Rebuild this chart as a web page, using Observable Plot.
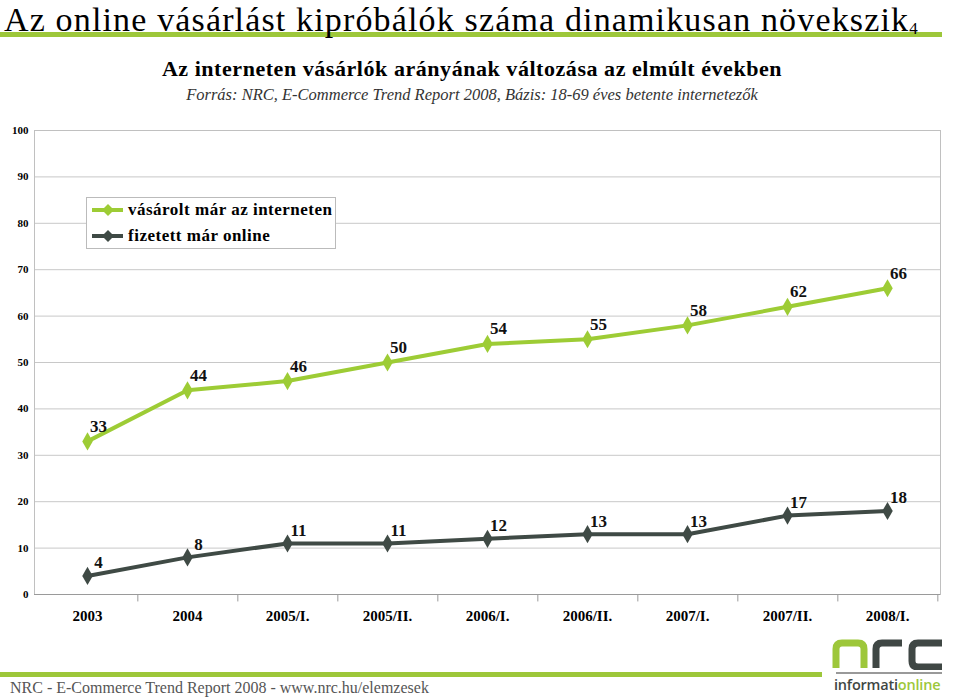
<!DOCTYPE html>
<html>
<head>
<meta charset="utf-8">
<script src="https://cdn.jsdelivr.net/npm/d3@7"></script>
<script src="https://cdn.jsdelivr.net/npm/@observablehq/plot@0.6"></script>
<style>
  html, body { margin: 0; padding: 0; background: #fff; }
  body { width: 960px; height: 700px; position: relative; overflow: hidden; font-family: "Liberation Serif", "Times New Roman", Times, "DejaVu Serif", serif; }
  .abs { position: absolute; }
  #title { left: 4px; top: 0px; font-size: 34px; line-height: 39px; letter-spacing: 1.15px; color: #000; white-space: nowrap; }
  #title sub { font-size: 17px; vertical-align: baseline; position: relative; top: 3px; letter-spacing: 0; }
  #titlebar { left: 0; top: 32px; width: 942px; height: 5px; background: #9dc73a; }
  #sub1 { left: 0; width: 944px; top: 56px; text-align: center; font-size: 22px; letter-spacing: 0.55px; font-weight: bold; white-space: nowrap; }
  #sub2 { left: 0; width: 944px; top: 85px; text-align: center; font-size: 16.5px; font-style: italic; color: #333; white-space: nowrap; }
  #chart { left: 0; top: 120px; }
  #legend { left: 86px; top: 197px; width: 248px; height: 50px; background: #fff; border: 1px solid #bbb; font-weight: bold; font-size: 17px; letter-spacing: 0.5px; }
  .lrow { position: absolute; left: 4px; height: 20px; display: flex; align-items: center; }
  .lrow svg { margin-right: 4px; }
  #footbar { left: 0; top: 672px; width: 822px; height: 5px; background: #9dc73a; }
  #foot { left: 10px; top: 679px; font-size: 16px; color: #555; white-space: nowrap; }
  #logo { left: 832px; top: 638px; width: 112px; height: 62px; }
  #logo svg { position: absolute; left: 0; top: 0; }
  #logo .rule { position: absolute; left: 4px; top: 34px; width: 106px; height: 2px; background: #999; }
  #logo .info { position: absolute; left: 2px; top: 40px; font-family: "Open Sans", sans-serif; font-weight: 600; font-size: 14.5px; letter-spacing: -0.2px; line-height: 1; white-space: nowrap; }
</style>
</head>
<body>
<div id="titlebar" class="abs"></div>
<div id="title" class="abs">Az online vásárlást kipróbálók száma dinamikusan növekszik<sub>4</sub></div>
<div id="sub1" class="abs">Az interneten vásárlók arányának változása az elmúlt években</div>
<div id="sub2" class="abs">Forrás: NRC, E-Commerce Trend Report 2008, Bázis: 18-69 éves betente internetezők</div>
<div id="chart" class="abs"></div>
<div id="legend" class="abs"></div>
<div id="footbar" class="abs"></div>
<div id="foot" class="abs">NRC - E-Commerce Trend Report 2008 - www.nrc.hu/elemzesek</div>
<div id="logo" class="abs">
  <svg width="112" height="32" viewBox="0 0 112 32">
    <path d="M4,30 V11 Q4,5 10,5 H26 Q32,5 32,11 V30" fill="none" stroke="#9dc73a" stroke-width="7"/>
    <path d="M44,30 V11 Q44,5 50,5 H70" fill="none" stroke="#3f4744" stroke-width="7"/>
    <path d="M110,5 H86 Q80,5 80,11 V23 Q80,29 86,29 H110" fill="none" stroke="#3f4744" stroke-width="7"/>
  </svg>
  <div class="rule"></div>
  <div class="info"><span style="color:#3f4744">informati</span><span style="color:#9dc73a">online</span></div>
</div>
<script>
const categories = ["2003", "2004", "2005/I.", "2005/II.", "2006/I.", "2006/II.", "2007/I.", "2007/II.", "2008/I."];
const seriesNames = ["vásárolt már az interneten", "fizetett már online"];
const purchased = [33, 44, 46, 50, 54, 55, 58, 62, 66];
const paidOnline = [4, 8, 11, 11, 12, 13, 13, 17, 18];
const yTicks = [0, 10, 20, 30, 40, 50, 60, 70, 80, 90, 100];
const colors = ["#9dcc35", "#3f4a45"];

const data = [];
categories.forEach((c, i) => {
  data.push({cat: c, value: purchased[i], series: seriesNames[0]});
  data.push({cat: c, value: paidOnline[i], series: seriesNames[1]});
});

const W = 960, mL = 34, mR = 20;
const step = (W - mL - mR) / categories.length;
const serif = "'Liberation Serif', 'Times New Roman', Times, 'DejaVu Serif', serif";

const chart = Plot.plot({
  width: W,
  height: 514,
  marginLeft: mL,
  marginRight: mR,
  marginTop: 10,
  marginBottom: 40,
  style: {fontFamily: serif, fontWeight: "bold", fontSize: "11px", color: "#000", background: "transparent"},
  x: {type: "point", domain: categories, padding: 0.5, label: null},
  y: {domain: [0, 100], label: null},
  color: {domain: seriesNames, range: colors},
  marks: [
    Plot.gridY(yTicks, {stroke: "#c8c8c8", strokeOpacity: 1}),
    Plot.frame({stroke: "#c0c0c0"}),
    Plot.ruleY([0], {stroke: "#9a9a9a"}),
    Plot.ruleX(categories, {x: d => d, y1: 0, y2: -1.6, dx: step / 2, stroke: "#9a9a9a"}),
    Plot.axisY(yTicks, {tickSize: 0, tickPadding: 6, fontSize: 11, fontWeight: "bold"}),
    Plot.axisX({tickSize: 0, tickPadding: 16, fontSize: 15, fontWeight: "bold"}),
    Plot.line(data, {x: "cat", y: "value", z: "series", stroke: "series", strokeWidth: 4}),
    Plot.dot(data, {x: "cat", y: "value", fill: "series", symbol: "diamond", r: 5.5}),
    Plot.text(data.filter(d => d.series === seriesNames[0]), {x: "cat", y: "value", text: "value", dx: 11, dy: -15, fontSize: 17, fontWeight: "bold", fill: "#111"}),
    Plot.text(data.filter(d => d.series === seriesNames[1]), {x: "cat", y: "value", text: "value", dx: 11, dy: -13, fontSize: 17, fontWeight: "bold", fill: "#111"})
  ]
});
document.getElementById("chart").appendChild(chart);

const legend = document.getElementById("legend");
seriesNames.forEach((name, i) => {
  const row = document.createElement("div");
  row.className = "lrow";
  row.style.top = (2 + i * 26) + "px";
  row.innerHTML = `<svg width="33" height="14"><line x1="1" y1="7" x2="32" y2="7" stroke="${colors[i]}" stroke-width="4"/><path d="M17,1 L23,7 L17,13 L11,7 Z" fill="${colors[i]}"/></svg><span>${name}</span>`;
  legend.appendChild(row);
});
</script>
</body>
</html>
